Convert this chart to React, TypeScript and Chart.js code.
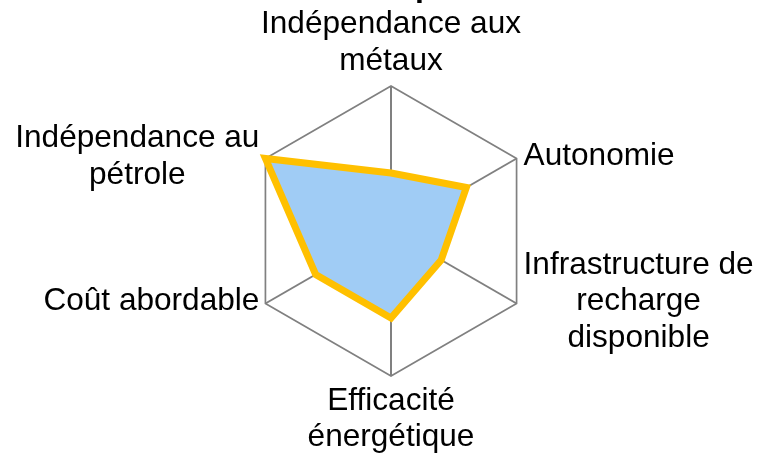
import React, { useEffect, useRef } from "react";
import { Chart, registerables } from "chart.js";

Chart.register(...registerables);

const titleText = "Bilan de comparaisons";
const categories: string[][] = [
  ["Indépendance aux", "métaux"],
  ["Autonomie"],
  ["Infrastructure de", "recharge", "disponible"],
  ["Efficacité", "énergétique"],
  ["Coût abordable"],
  ["Indépendance au", "pétrole"],
];
const values: number[] = [2, 3, 2, 3, 3, 5];
const scaleMin = 0;
const scaleMax = 5;

const CANVAS_H = 497;
const SHIFT = 42;
const FONT = "'Liberation Sans', Arial, Helvetica, sans-serif";
const LABEL_SIZE = 31.6;
const LH = 36.6;

const labelPlugin = {
  id: "centeredPointLabels",
  afterDraw(chart: any) {
    const scale = chart.scales.r;
    const ctx = chart.ctx as CanvasRenderingContext2D;
    ctx.save();
    ctx.font = `${LABEL_SIZE}px ${FONT}`;
    ctx.fillStyle = "#000";
    ctx.textBaseline = "middle";
    ctx.textAlign = "center";
    const cx = scale.xCenter;
    const cy = scale.yCenter;
    categories.forEach((lines, i) => {
      const p = scale.getPointPosition(i, scale.drawingArea);
      const n = lines.length;
      const maxW = Math.max(...lines.map((l) => ctx.measureText(l).width));
      let x: number;
      let ys: number[];
      if (Math.abs(p.x - cx) < 1) {
        x = p.x;
        if (p.y < cy) ys = lines.map((_, k) => p.y - 25 - (n - 1 - k) * LH);
        else ys = lines.map((_, k) => p.y + 25 + k * LH);
      } else {
        const c = p.y - 2;
        ys = lines.map((_, k) => c + (k - (n - 1) / 2) * LH);
        x = p.x > cx ? p.x + 7 + maxW / 2 : p.x - 6 - maxW / 2;
      }
      lines.forEach((l, k) => ctx.fillText(l, x, ys[k]));
    });
    ctx.restore();
  },
};

export default function App() {
  const ref = useRef<HTMLCanvasElement | null>(null);
  useEffect(() => {
    if (!ref.current) return;
    const chart = new Chart(ref.current, {
      type: "radar",
      data: {
        labels: categories,
        datasets: [
          {
            data: values,
            backgroundColor: "rgb(160,204,245)",
            borderColor: "rgb(255,192,0)",
            borderWidth: 7,
            borderJoinStyle: "miter",
            pointRadius: 0,
            pointHoverRadius: 0,
            fill: true,
            tension: 0,
          },
        ],
      },
      options: {
        responsive: false,
        animation: false,
        events: [],
        layout: { padding: { left: 22, right: 0, top: 0, bottom: 79 } },
        plugins: {
          legend: { display: false },
          tooltip: { enabled: false },
          title: {
            display: true,
            text: titleText,
            color: "#000",
            font: { family: FONT, size: 32, weight: "bold" },
            padding: { top: 9.6, bottom: 80 },
          },
        },
        scales: {
          r: {
            min: scaleMin,
            max: scaleMax,
            ticks: { display: false, stepSize: 5 },
            grid: { color: "#808080", lineWidth: 1.7 },
            angleLines: { color: "#808080", lineWidth: 2 },
            pointLabels: { display: false },
          },
        },
      },
      plugins: [labelPlugin],
    });
    return () => chart.destroy();
  }, []);
  return (
    <div
      style={{
        position: "fixed",
        left: 0,
        top: 0,
        width: 760,
        height: 453,
        overflow: "hidden",
        background: "#fff",
      }}
    >
      <canvas
        ref={ref}
        width={760}
        height={CANVAS_H}
        style={{ position: "absolute", left: 0, top: -SHIFT, width: 760, height: CANVAS_H }}
      />
    </div>
  );
}
